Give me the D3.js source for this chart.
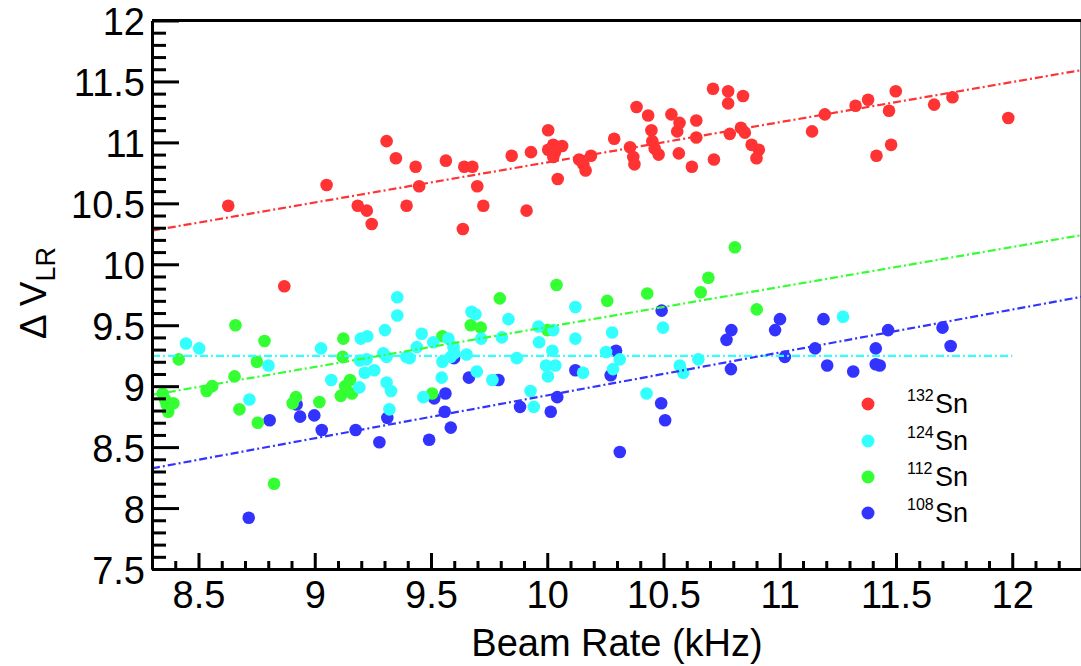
<!DOCTYPE html>
<html><head><meta charset="utf-8">
<script src="https://cdn.jsdelivr.net/npm/d3@7"></script>
<style>
html,body{margin:0;padding:0;background:#fff;}
text{font-family:"Liberation Sans",Arial,Helvetica,sans-serif;fill:#000;}
</style></head>
<body><svg id="c" width="1081" height="666"></svg>
<script>
// ---- data ----
const sn132 = [[8.628,10.48],[9.051,10.65],[9.185,10.48],[9.224,10.44],[9.245,10.33],[9.309,11.01],[9.349,10.87],[9.434,10.80],[9.449,10.64],[9.395,10.48],[9.564,10.85],
[9.643,10.80],[9.678,10.80],[9.699,10.64],[9.725,10.48],[9.637,10.29],[9.847,10.89],[9.930,10.92],[9.911,10.44],[10.004,11.10],[10.026,10.98],[10.004,10.94],[10.033,10.92],[10.064,10.97],[10.026,10.88],[10.045,10.70],[10.137,10.86],[10.188,10.89],[10.155,10.82],[10.165,10.77],[10.288,11.03],[10.384,11.29],[10.434,11.22],[10.356,10.96],[10.370,10.88],[10.375,10.82],[10.448,11.10],[10.452,11.01],[10.462,10.95],[10.479,10.90],[10.534,11.23],[10.569,11.16],[10.559,11.09],[10.566,10.91],[10.641,11.18],[10.641,11.04],[10.622,10.80],[10.713,11.44],[10.778,11.42],[10.778,11.32],[10.842,11.38],[10.717,10.86],[10.785,11.07],[10.833,11.12],[10.850,11.08],[10.879,10.98],[10.910,10.94],[10.900,10.87],
[11.139,11.09],[11.194,11.23],[11.326,11.30],[11.380,11.35],[11.499,11.42],[11.470,11.26],[11.479,10.98],[11.416,10.89],[11.664,11.31],[11.743,11.37],[11.983,11.20],
[8.869,9.82]];
const sn124 = [[8.446,9.35],[8.503,9.31],[8.801,9.17],[8.719,8.89],[9.027,9.31],[9.198,9.39],[9.226,9.41],[9.302,9.46],[9.355,9.73],[9.355,9.58],[9.295,9.27],[9.309,9.24],[9.194,9.21],[9.223,9.22],[9.215,9.11],[9.256,9.13],[9.071,9.05],[9.192,8.99],[9.309,9.03],[9.328,8.96],[9.321,8.81],
[9.674,9.61],[9.691,9.59],[9.833,9.55],[9.460,9.43],[9.510,9.36],[9.439,9.32],[9.575,9.39],[9.597,9.32],[9.716,9.39],[9.805,9.40],[9.653,9.26],[9.394,9.24],[9.408,9.23],[9.549,9.20],[9.585,9.24],[9.600,9.27],[9.546,9.07],[9.697,9.12],[9.764,9.05],[9.467,8.91],[9.869,9.23],[9.962,9.49],[10.026,9.46],[9.965,9.36],[10.022,9.29],[10.121,9.65],[10.121,9.39],[10.279,9.44],[10.253,9.28],[9.995,9.17],[10.035,9.17],[10.003,9.08],[10.154,9.11],[10.312,9.22],[10.283,9.14],[9.928,8.96],[9.942,8.83],[10.427,8.94],
[10.498,9.48],[11.272,9.57],[10.650,9.22],[10.570,9.17],[10.585,9.11]];
const sn112 = [[8.659,9.50],[8.784,9.37],[8.415,9.22],[8.751,9.20],[9.123,9.39],[9.120,9.24],[8.655,9.08],[8.559,9.00],[8.535,8.96],[8.346,8.94],[8.356,8.89],[8.392,8.86],[8.363,8.85],[8.370,8.79],[8.676,8.81],[8.755,8.70],[8.919,8.91],[8.905,8.86],[9.020,8.87],[9.152,9.05],[9.131,9.00],[9.112,8.92],[9.160,8.94],[8.825,8.20],
[10.040,9.83],[9.796,9.72],[10.258,9.70],[10.430,9.76],[9.671,9.50],[9.714,9.48],[9.549,9.41],[10.000,9.46],[9.505,8.94],
[10.807,10.14],[10.693,9.89],[10.660,9.77],[10.901,9.63]];
const sn108 = [[8.922,8.85],[8.806,8.72],[8.937,8.75],[8.998,8.76],[9.030,8.64],[9.176,8.64],[9.278,8.54],[9.312,8.74],[8.716,7.92],
[9.599,9.23],[9.663,9.07],[9.790,9.05],[9.562,8.94],[9.514,8.90],[9.559,8.79],[9.585,8.66],[9.492,8.56],[9.883,8.83],[10.043,8.91],[10.015,8.79],[10.121,9.13],[10.296,9.29],[10.273,9.09],[10.312,8.46],
[10.492,9.62],[10.792,9.46],[10.771,9.38],[11.001,9.55],[10.980,9.46],[11.188,9.55],[11.466,9.46],[11.152,9.31],[11.413,9.31],[11.022,9.24],[11.204,9.17],[11.316,9.12],[11.413,9.18],[11.430,9.17],[10.790,9.14],[10.490,8.86],[10.507,8.72],
[11.700,9.48],[11.735,9.33]];
// fit lines: [x0,y0],[x1,y1]
const fit132 = [[8.3,10.276],[12.3,11.594]];
const fit124 = [[8.3,9.248],[12.0,9.248]];
const fit112 = [[8.3,8.928],[12.3,10.24]];
const fit108 = [[8.3,8.326],[12.3,9.734]];
const seriesNames = ["132","124","112","108"];
const seriesColors = ["#ff3333","#33ffff","#33ff33","#3333ff"];
const xTicks = [8.5,9,9.5,10,10.5,11,11.5,12];
const xTickLabels = ["8.5","9","9.5","10","10.5","11","11.5","12"];
const yTicks = [7.5,8,8.5,9,9.5,10,10.5,11,11.5,12];
const yTickLabels = ["7.5","8","8.5","9","9.5","10","10.5","11","11.5","12"];

// ---- drawing ----
const svg = d3.select("#c");
const L=152, R=1082, T=20.5, B=569;
const x = d3.scaleLinear().domain([8.3,12.3]).range([L,R]);
const y = d3.scaleLinear().domain([7.5,12]).range([B,T]);
const xMinor = d3.range(83,124).map(d=>d/10).filter(d=>!xTicks.some(t=>Math.abs(t-d)<1e-6));
const yMinor = d3.range(75,121).map(d=>d/10).filter(d=>!yTicks.some(t=>Math.abs(t-d)<1e-6));

// frame top/right
svg.append("line").attr("x1",L).attr("x2",R).attr("y1",T).attr("y2",T).attr("stroke","#000").attr("stroke-width",3);
svg.append("line").attr("x1",R).attr("x2",R).attr("y1",T).attr("y2",B).attr("stroke","#000").attr("stroke-width",3);

// points
const groups = [[sn108,3],[sn112,2],[sn124,1],[sn132,0]];
groups.forEach(([data,ci])=>{
  svg.append("g").selectAll("circle").data(data).join("circle")
    .attr("cx",d=>x(d[0])).attr("cy",d=>y(d[1])).attr("r",6.3)
    .attr("fill",seriesColors[ci]);
});

// fit lines
const line = d3.line().x(d=>x(d[0])).y(d=>y(d[1]));
[[fit132,0],[fit124,1],[fit112,2],[fit108,3]].forEach(([f,ci])=>{
  svg.append("path").attr("d",line(f)).attr("fill","none")
    .attr("stroke",seriesColors[ci]).attr("stroke-width",2.2)
    .attr("stroke-dasharray","8,3,2,3");
});

// axes
function styleAxis(g){
  g.selectAll("path.domain").attr("stroke","#000").attr("stroke-width",3);
  g.selectAll(".tick line").attr("stroke","#000").attr("stroke-width",3);
}
const gxMin = svg.append("g").attr("transform",`translate(0,${B})`)
  .call(d3.axisBottom(x).tickValues(xMinor).tickSize(-8).tickSizeOuter(0).tickFormat(""));
styleAxis(gxMin);
const gx = svg.append("g").attr("transform",`translate(0,${B})`)
  .call(d3.axisBottom(x).tickValues(xTicks).tickSize(-16).tickSizeOuter(0).tickFormat((d,i)=>xTickLabels[i]));
styleAxis(gx);
gx.selectAll(".tick text").attr("y",39).attr("dy",0).attr("font-size",38)
  .style("font-family",'"Liberation Sans",Arial,sans-serif').attr("fill","#000");

const gyMin = svg.append("g").attr("transform",`translate(${L},0)`)
  .call(d3.axisLeft(y).tickValues(yMinor).tickSize(-14).tickSizeOuter(0).tickFormat(""));
styleAxis(gyMin);
const gy = svg.append("g").attr("transform",`translate(${L},0)`)
  .call(d3.axisLeft(y).tickValues(yTicks).tickSize(-27).tickSizeOuter(0).tickFormat((d,i)=>yTickLabels[i]));
styleAxis(gy);
gy.selectAll(".tick text").attr("x",-7).attr("dy",14).attr("font-size",38)
  .style("font-family",'"Liberation Sans",Arial,sans-serif').attr("fill","#000");

// titles
svg.append("text").attr("x",(L+R)/2).attr("y",656).attr("text-anchor","middle")
  .attr("font-size",38).text("Beam Rate (kHz)");
const yt = svg.append("text").attr("transform","translate(46,293) rotate(-90)")
  .attr("text-anchor","middle").attr("font-size",37);
yt.append("tspan").text("\u0394 V");
yt.append("tspan").attr("font-size",27).attr("dy",9).text("LR");

// legend
const legY = [404,441,477,513];
seriesNames.forEach((n,i)=>{
  svg.append("circle").attr("cx",868).attr("cy",legY[i]).attr("r",6.5).attr("fill",seriesColors[i]);
  const t = svg.append("text").attr("x",907).attr("y",legY[i]+9).attr("font-size",27);
  t.append("tspan").attr("font-size",16).attr("dy",-12).text(n);
  t.append("tspan").attr("dy",12).attr("x",935).text("Sn");
});
</script></body></html>
